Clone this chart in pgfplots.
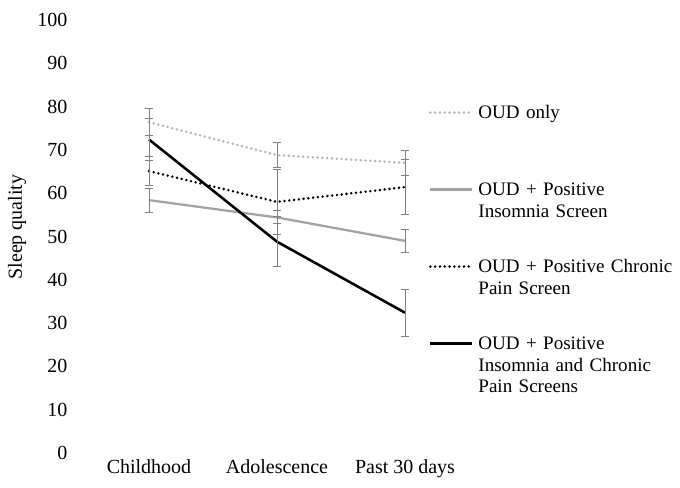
\documentclass[border=0pt]{standalone}
\usepackage{pgfplots}
\pgfplotsset{compat=1.18}
\usepackage{fontspec}
\setmainfont{Liberation Serif}
\definecolor{lgray}{HTML}{B4B4B4}
\definecolor{mgray}{HTML}{A3A3A3}
\definecolor{egray}{HTML}{808080}
\pgfplotsset{
  eb/.style={error bars/.cd, y dir=both, y explicit,
    error bar style={egray, line width=0.75pt, solid, line cap=butt},
    error mark options={egray, rotate=90, mark size=2.8pt, line width=0.75pt, solid}},
  limg/.style={legend image code/.code={\draw[##1] (0pt,#1) -- (31.5pt,#1);}}
}
\begin{document}
\fontsize{15}{16.2}\selectfont
\begin{tikzpicture}
\useasboundingbox (-63.75pt,-25.5pt) rectangle (446.25pt,339.75pt);
\begin{axis}[
  scale only axis, width=288pt, height=324.75pt,
  xmin=-0.5, xmax=2.5, ymin=0, ymax=100,
  xtick={0,1,2}, xticklabels={Childhood,Adolescence,Past 30 days},
  ytick={0,10,...,100},
  axis line style={draw=none}, major tick length=0pt,
  /pgf/number format/assume math mode=true,
  ticklabel style={font=\fontsize{15}{16.2}\selectfont},
  yticklabel style={xshift=-8pt},
  ylabel={Sleep quality},
  ylabel style={at={(axis description cs:-0.177,0.522)}, anchor=center, font=\fontsize{15}{16.2}\selectfont},
  legend style={draw=none, fill=none, at={(axis description cs:0.895,0.804)}, anchor=north west,
    inner sep=0pt, row sep=0pt, column sep=3.5pt,
    nodes={text width=160pt, align=left, text height=10pt, text depth=47.75pt, inner sep=0pt,
      font=\fontsize{14.3}{16.2}\selectfont}},
  legend cell align=left,
]
\addplot[lgray, line width=2.1pt, dash pattern=on 0pt off 3.6pt, line cap=round, limg=23.3pt, eb]
  coordinates {(0,76.4) +- (0,3.15) (1,68.8) +- (0,2.9) (2,67.0) +- (0,2.8)};
\addlegendentry{OUD only}
\addplot[mgray, line width=1.7pt, limg=23.3pt, eb]
  coordinates {(0,58.4) +- (0,2.8) (1,54.4) +- (0,1.5) (2,49.0) +- (0,2.6)};
\addlegendentry{OUD + Positive\\Insomnia Screen}
\addplot[black, line width=2.1pt, dash pattern=on 0pt off 3.6pt, line cap=round, limg=23.3pt, eb]
  coordinates {(0,65.1) +- (0,3.4) (1,58.0) +- (0,7.5) (2,61.4) +- (0,6.4)};
\addlegendentry{OUD + Positive Chronic\\Pain Screen}
\addplot[black, line width=1.9pt, limg=23.3pt, eb]
  coordinates {(0,72.4) +- (0,4.95) (1,48.8) +- (0,5.8) (2,32.4) +- (0,5.4)};
\addlegendentry{OUD + Positive\\Insomnia and Chronic\\Pain Screens}
\end{axis}
\end{tikzpicture}
\end{document}
